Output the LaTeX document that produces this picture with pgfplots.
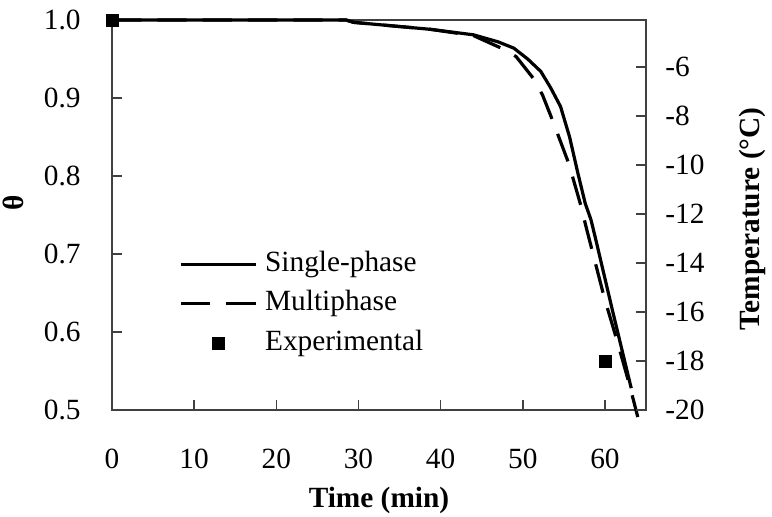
\documentclass[border=0pt]{standalone}
\usepackage{pgfplots}
\pgfplotsset{compat=1.18}
\usepackage{fontspec}
\setmainfont{Liberation Serif}

% Dimensionless temperature theta vs. time (left axis),
% with the matching temperature scale on the right.
\pgfplotstableread{
t     theta
0.0   1.000
10.0  1.000
20.0  1.000
28.5  1.000
29.4  0.997
38.8  0.988
44.0  0.981
47.0  0.972
48.9  0.964
50.6  0.950
52.2  0.934
53.4  0.913
54.6  0.889
55.7  0.850
56.7  0.804
57.6  0.765
58.3  0.744
58.9  0.718
61.0  0.624
63.2  0.528
}\singlephase

\pgfplotstableread{
t     theta
0.0   1.000
10.0  1.000
20.0  1.000
28.5  1.000
29.4  0.997
38.8  0.988
44.0  0.980
46.1  0.970
47.8  0.962
49.2  0.953
51.3  0.925
52.4  0.904
53.6  0.872
55.6  0.816
57.1  0.761
57.7  0.735
59.9  0.645
61.5  0.588
63.0  0.532
64.0  0.491
}\multiphase

\pgfplotstableread{
t     theta
0     1.000
60    0.562
}\experimental

\definecolor{axisgray}{RGB}{64,64,64}

\begin{document}
\begin{tikzpicture}[font=\fontsize{22}{26}\selectfont]
\path[use as bounding box] (-84pt,-80.25pt) rectangle (495pt,307.5pt);

\begin{axis}[
  scale only axis, width=400.5pt, height=292.5pt,
  xmin=0, xmax=65, ymin=0.5, ymax=1.0,
  clip=false,
  xtick={0,10,20,30,40,50,60},
  ytick={0.5,0.6,0.7,0.8,0.9,1.0},
  xtick pos=left, ytick pos=left,
  tick align=inside,
  major tick length=7.5pt,
  axis line style={axisgray, line width=1.2pt},
  tick style={axisgray, line width=1.1pt},
  /pgf/number format/assume math mode=true,
  xticklabel style={yshift=-26pt},
  yticklabel style={xshift=-20pt, /pgf/number format/.cd, fixed, fixed zerofill, precision=1},
  xlabel={\textbf{Time (min)}},
  xlabel style={at={(axis description cs:0.5,-0.232)}, anchor=center},
  ylabel={\textbf{θ}},
  ylabel style={at={(axis description cs:-0.185,0.53)}, anchor=center},
  legend style={draw=none, fill=none, at={(axis description cs:0.118,0.424)}, anchor=north west,
    nodes={text height=16pt, text depth=5pt, inner sep=2pt}, row sep=4.5pt,
    font=\fontsize{22}{26}\selectfont},
  legend cell align=left,
]
\addplot[black, line width=2.4pt, no marks,
  legend image code/.code={\draw[black, line width=2.4pt] (0pt,0pt) -- (56pt,0pt);}]
  table[x=t, y=theta] {\singlephase};
\addlegendentry{\hspace{4pt}Single-phase}
\addplot[black, line width=2.4pt, no marks, dash pattern=on 22pt off 12pt,
  legend image code/.code={\draw[black, line width=2.4pt, dash pattern=on 22pt off 12pt] (0pt,0pt) -- (56pt,0pt);}]
  table[x=t, y=theta] {\multiphase};
\addlegendentry{\hspace{4pt}Multiphase}
\addplot[only marks, mark=square*, mark size=4.5pt, black,
  legend image code/.code={\draw[only marks, mark=square*, mark size=4.5pt, black] plot coordinates {(28pt,0pt)};}]
  table[x=t, y=theta] {\experimental};
\addlegendentry{\hspace{4pt}Experimental}
\end{axis}

\begin{axis}[
  scale only axis, width=400.5pt, height=292.5pt,
  xmin=0, xmax=65, ymin=-20, ymax=-4.08,
  axis x line=none, axis y line*=right,
  ytick={-20,-18,-16,-14,-12,-10,-8,-6},
  tick align=inside,
  major tick length=7.5pt,
  axis line style={axisgray, line width=1.2pt, -},
  tick style={axisgray, line width=1.1pt},
  /pgf/number format/assume math mode=true,
  yticklabel style={xshift=11pt},
  ylabel={\textbf{Temperature (°C)}},
  ylabel style={at={(axis description cs:1.1985,0.49)}, anchor=center},
]
\addplot[draw=none, no marks] coordinates {(0,-20) (65,-4.08)};
\end{axis}
\end{tikzpicture}
\end{document}
